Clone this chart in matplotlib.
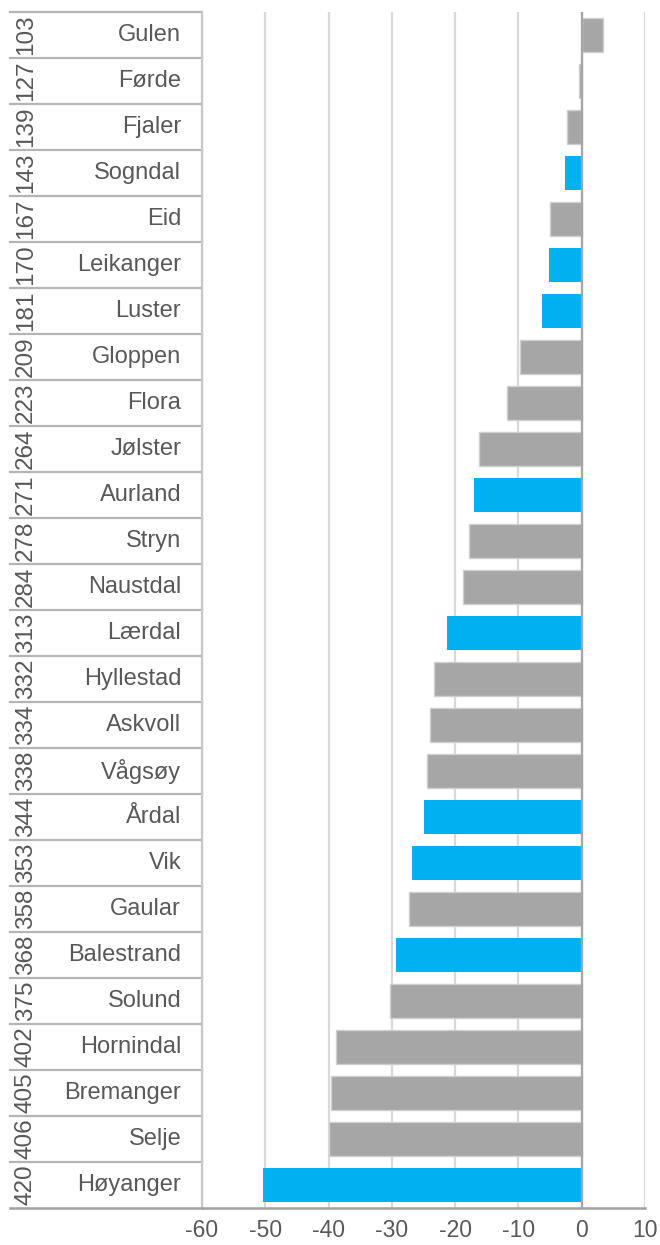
import numpy as np
import matplotlib.pyplot as plt

plt.rcParams.update({
    "font.family": ["Liberation Sans", "DejaVu Sans"],
    "text.color": "#595959",
    "xtick.color": "#595959",
})

# ---------------- data ----------------
ranks = [103, 127, 139, 143, 167, 170, 181, 209, 223, 264, 271, 278, 284,
         313, 332, 334, 338, 344, 353, 358, 368, 375, 402, 405, 406, 420]
names = ["Gulen", "Førde", "Fjaler", "Sogndal", "Eid", "Leikanger", "Luster",
         "Gloppen", "Flora", "Jølster", "Aurland", "Stryn", "Naustdal",
         "Lærdal", "Hyllestad", "Askvoll", "Vågsøy", "Årdal", "Vik", "Gaular",
         "Balestrand", "Solund", "Hornindal", "Bremanger", "Selje", "Høyanger"]
values = [3.3, -0.45, -2.25, -2.7, -5.0, -5.1, -6.3, -9.8, -11.8, -16.2,
          -17.0, -17.8, -18.8, -21.3, -23.3, -23.9, -24.4, -24.9, -26.8,
          -27.3, -29.3, -30.3, -38.8, -39.6, -40.0, -50.3]
highlight = ["Sogndal", "Leikanger", "Luster", "Aurland", "Lærdal", "Årdal",
             "Vik", "Balestrand", "Høyanger"]
xticks = [-60, -50, -40, -30, -20, -10, 0, 10]

BLUE = "#00B0F0"
GREY = "#A6A6A6"

# ---------------- plot ----------------
fig = plt.figure(figsize=(6.6, 12.45), dpi=100)
ax = fig.add_axes([202 / 660, 1 - 1208 / 1245, 443 / 660, 1196 / 1245])

y = np.arange(len(names))
colors = [BLUE if n in highlight else GREY for n in names]
edges = ["none" if n in highlight else "#CFCFCF" for n in names]
ax.barh(y, values, height=0.76, color=colors, edgecolor=edges,
        linewidth=1.0, zorder=3)

ax.set_xlim(-60, 10)
ax.set_ylim(len(names) - 0.5, -0.5)
ax.set_xticks(xticks)
ax.set_xticklabels([str(t) for t in xticks], fontsize=16.5)
ax.set_yticks([])
ax.tick_params(axis="x", length=0, pad=8)

ax.grid(axis="x", color="#D9D9D9", linewidth=1.6, zorder=0)
ax.axvline(0, color="#A6A6A6", linewidth=1.6, zorder=4)

for s in ["top", "right"]:
    ax.spines[s].set_visible(False)
ax.spines["left"].set_color("#C8C8C8")
ax.spines["left"].set_linewidth(1.6)
ax.spines["bottom"].set_color("#A0A0A0")
ax.spines["bottom"].set_linewidth(1.8)

# category labels (two levels) and separators
tr = ax.get_yaxis_transform()
x_left = (10 - 202) / 443
for i, (r, n) in enumerate(zip(ranks, names)):
    ax.text(-0.047, i, n, transform=tr, ha="right", va="center",
            fontsize=17, clip_on=False)
    ax.text((26 - 202) / 443, i, str(r), transform=tr, ha="center",
            va="center", rotation=90, fontsize=17.5, clip_on=False)
for b in np.arange(-0.5, len(names) - 0.5, 1.0):
    ax.plot([x_left, 0], [b, b], transform=tr, color="#B4B4B4",
            linewidth=1.6, clip_on=False, zorder=1)
ax.plot([x_left, 0], [len(names) - 0.5] * 2, transform=tr, color="#A0A0A0",
        linewidth=1.8, clip_on=False, zorder=1)

fig.savefig("out.png", dpi=100)
